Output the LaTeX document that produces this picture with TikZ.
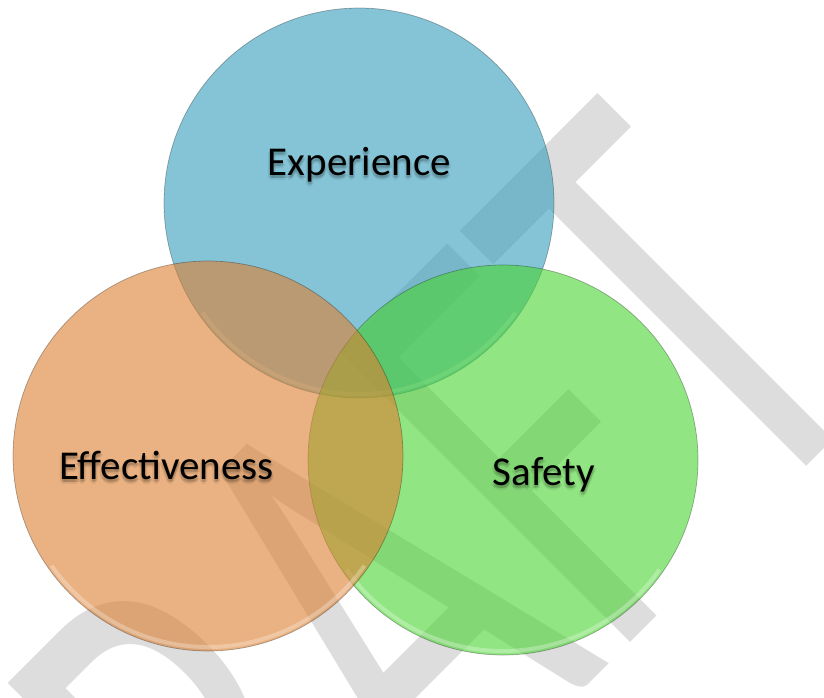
\documentclass[tikz,border=0pt]{standalone}
\usepackage{fontspec}
\setmainfont{Carlito}
\newfontfamily\wmfont{Carlito}
\definecolor{cblue}{HTML}{359EBC}
\definecolor{corange}{HTML}{DC7F30}
\definecolor{cgreen}{HTML}{49D430}
\definecolor{wmgray}{HTML}{DDDDDD}
\tikzset{
  venn/.style={circle, minimum size=390pt, inner sep=0pt, fill opacity=0.6, draw=black, draw opacity=0.3, line width=0.7pt},
  lbl/.style={font=\fontsize{41}{41}\selectfont, text=black, inner sep=0pt, anchor=base},
  lblshadow/.style={font=\fontsize{41}{41}\selectfont, text=black, text opacity=0.07, inner sep=0pt, anchor=base},
  rim/.style={white, line width=4pt, opacity=0.28}
}
\begin{document}
\begin{tikzpicture}[x=1pt,y=-1pt]
\useasboundingbox (0,0) rectangle (824,697);
\fill[white] (0,0) rectangle (824,697);
\clip (0,0) rectangle (824,697);
% watermark (behind the translucent circles)
\node[font=\fontsize{420}{420}\selectfont\wmfont, text=wmgray, inner sep=0pt,
      anchor=base east, rotate=45, yscale=1.526] (wm) at (892,381) {DRAFT};
% circles: blue, green, orange (orange on top)
\node[venn, fill=cblue] (exp) at (359,203) {};
\draw[rim] (359,203) ++(35:191) arc[start angle=35, end angle=145, radius=191];
\node[venn, fill=cgreen] (saf) at (503,460) {};
\draw[rim] (503,460) ++(35:191) arc[start angle=35, end angle=145, radius=191];
\node[venn, fill=corange] (eff) at (208,456) {};
\draw[rim] (208,456) ++(35:191) arc[start angle=35, end angle=145, radius=191];
% labels with soft shadow
\foreach \dx/\dy in {0/3, 2/3, -2/3, 0/5, 1/2}{
  \node[lblshadow] at (359.5+\dx,175.5+\dy) {Experience};
  \node[lblshadow] at (166.5+\dx,479+\dy) {Effectiveness};
  \node[lblshadow] at (544+\dx,485+\dy) {Safety};
}
\node[lbl] (lexp) at (359.5,175.5) {Experience};
\node[lbl] (leff) at (166.5,479) {Effectiveness};
\node[lbl] (lsaf) at (544,485) {Safety};
\end{tikzpicture}
\end{document}
